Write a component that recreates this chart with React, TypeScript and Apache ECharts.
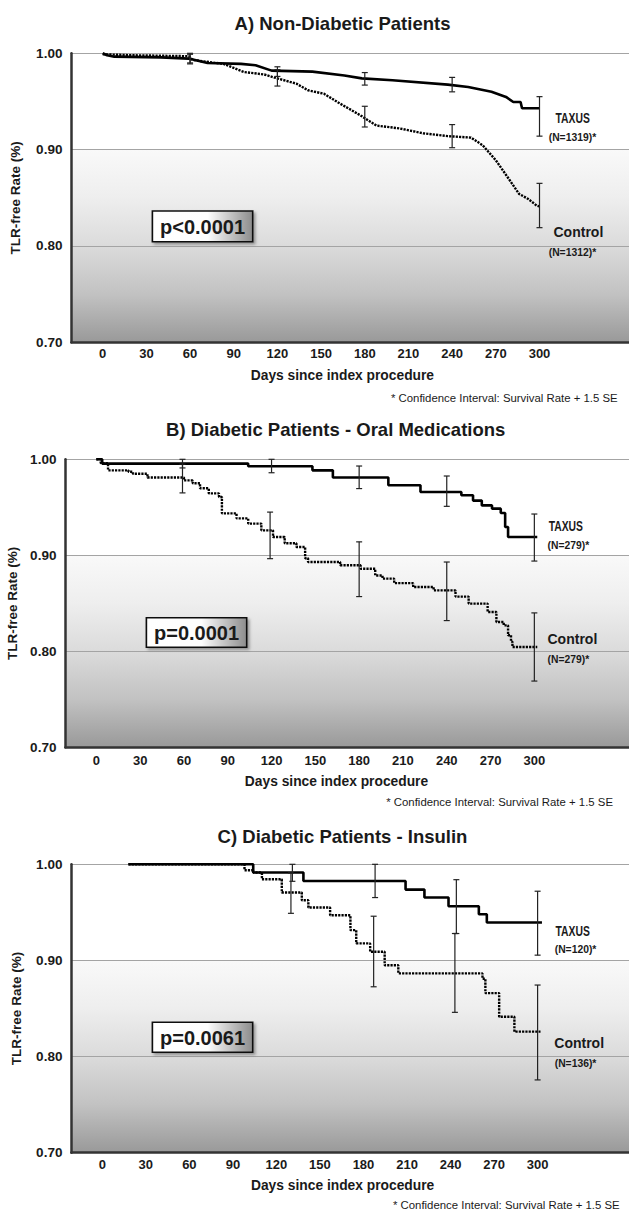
import React, { useEffect, useRef } from "react";
import * as echarts from "echarts";

// ---------- data ----------
const X_TICKS = [0, 30, 60, 90, 120, 150, 180, 210, 240, 270, 300];
const Y_MIN = 0.7;
const Y_MAX = 1.0;
const Y_STEP = 0.1;

const TITLES = [
  "A) Non-Diabetic Patients",
  "B) Diabetic Patients - Oral Medications",
  "C) Diabetic Patients - Insulin",
];
const P_TEXTS = ["p<0.0001", "p=0.0001", "p=0.0061"];
const N_TAXUS = ["(N=1319)*", "(N=279)*", "(N=120)*"];
const N_CONTROL = ["(N=1312)*", "(N=279)*", "(N=136)*"];

// Panel A (day, TLR-free rate)
const A_TAXUS: [number, number][] = [
  [0, 1.0], [3, 0.998], [8, 0.9965], [40, 0.9958], [59, 0.9945], [72, 0.990],
  [95, 0.989], [105, 0.9876], [116, 0.982], [144, 0.981], [166, 0.977],
  [178, 0.974], [199, 0.972], [237, 0.9675], [251, 0.965], [267, 0.960],
  [277, 0.9547], [282, 0.9494], [287, 0.9494], [288, 0.943], [300, 0.943],
];
const A_CONTROL: [number, number][] = [
  [0, 0.999], [20, 0.998], [59, 0.997], [62, 0.993], [83, 0.989], [97, 0.9806],
  [111, 0.978], [118, 0.9748], [133, 0.9685], [141, 0.9616], [152, 0.958],
  [163, 0.9478], [177, 0.9356], [188, 0.925], [204, 0.922], [220, 0.917],
  [237, 0.914], [253, 0.9125], [261, 0.9045], [270, 0.889], [278, 0.8716],
  [281, 0.865], [286, 0.854], [292, 0.849], [298, 0.842], [300, 0.841],
];
// error bars: [day, low, high]
const A_TAXUS_CI: [number, number, number][] = [
  [60, 0.990, 0.999], [120, 0.976, 0.986], [180, 0.967, 0.980],
  [240, 0.960, 0.975], [300, 0.914, 0.955],
];
const A_CONTROL_CI: [number, number, number][] = [
  [60, 0.989, 1.0], [120, 0.966, 0.983], [180, 0.9235, 0.945],
  [240, 0.902, 0.926], [300, 0.819, 0.865],
];

// Panel B
const B_TAXUS: [number, number][] = [
  [0, 1.0], [4, 0.9955], [104, 0.9927], [148, 0.9885], [162, 0.981],
  [200, 0.973], [222, 0.966], [250, 0.9625], [258, 0.957], [264, 0.952],
  [271, 0.9486], [277, 0.944], [280, 0.9295], [282, 0.919], [302, 0.919],
];
const B_CONTROL: [number, number][] = [
  [0, 1.0], [3, 0.996], [8, 0.9885], [22, 0.987], [25, 0.985], [35, 0.981],
  [60, 0.978], [66, 0.975], [71, 0.9698], [77, 0.9645], [84, 0.9607],
  [86, 0.9437], [96, 0.9385], [104, 0.933], [113, 0.926], [121, 0.919],
  [129, 0.9125], [137, 0.9087], [143, 0.897], [145, 0.893], [167, 0.8896],
  [181, 0.886], [191, 0.879], [196, 0.8757], [204, 0.871], [217, 0.867],
  [231, 0.8635], [246, 0.857], [255, 0.8497], [268, 0.841], [274, 0.8305],
  [279, 0.827], [282, 0.8167], [284, 0.81], [285, 0.8045], [302, 0.8045],
];
const B_TAXUS_CI: [number, number, number][] = [
  [59, 0.991, 1.0], [120, 0.986, 1.0], [180, 0.9695, 0.993],
  [240, 0.951, 0.9826], [300, 0.894, 0.943],
];
const B_CONTROL_CI: [number, number, number][] = [
  [59, 0.965, 0.995], [119, 0.8965, 0.945], [180, 0.857, 0.914],
  [240, 0.832, 0.893], [300, 0.769, 0.84],
];

// Panel C
const C_TAXUS: [number, number][] = [
  [18, 1.0], [104, 0.9914], [138.6, 0.9827], [209, 0.9737], [222, 0.9654],
  [238.6, 0.9564], [259.5, 0.948], [265, 0.9394], [303, 0.9394],
];
const C_CONTROL: [number, number][] = [
  [18, 1.0], [98, 0.9938], [104, 0.9914], [110, 0.9844], [123.7, 0.9706],
  [137.5, 0.9626], [142, 0.955], [157, 0.947], [171, 0.9315], [175, 0.9177],
  [184.6, 0.909], [194.6, 0.895], [204, 0.8865], [262, 0.881], [264, 0.866],
  [273.5, 0.8414], [284, 0.8259], [302, 0.8259],
];
const C_TAXUS_CI: [number, number, number][] = [
  [131, 0.9823, 1.0], [188, 0.9654, 1.0], [244, 0.928, 0.984], [300, 0.9055, 0.972],
];
const C_CONTROL_CI: [number, number, number][] = [
  [130, 0.949, 0.991], [187, 0.8726, 0.946], [243, 0.846, 0.928], [300, 0.7757, 0.8744],
];

const TAXUS = [A_TAXUS, B_TAXUS, C_TAXUS];
const CONTROL = [A_CONTROL, B_CONTROL, C_CONTROL];
const TAXUS_CI = [A_TAXUS_CI, B_TAXUS_CI, C_TAXUS_CI];
const CONTROL_CI = [A_CONTROL_CI, B_CONTROL_CI, C_CONTROL_CI];
const STEPPED = [false, true, true];

// ---------- layout ----------
const LAYOUT = [
  { left: 71.4, top: 53.3, height: 289, width: 560, min: -21.5, pxPerDay: 1.456, nameGap: 49, labelMargin: 5,
    titleX: 342.5, titleY: 23.3, daysX: 342.4, daysY: 375.7, footX: 617.7, footY: 398.3,
    box: [152.4, 211, 100.3, 30.7], taxusLbl: [555.5, 118.3], nT: [548.7, 136.7], ctrlLbl: [553.5, 232.3], nC: [548.7, 251.7] },
  { left: 65.4, top: 459.3, height: 288, width: 566, min: -21.2, pxPerDay: 1.46, nameGap: 46, labelMargin: 6.5,
    titleX: 335.7, titleY: 429.3, daysX: 336.5, daysY: 781.7, footX: 613, footY: 802.3,
    box: [146.4, 617.7, 100.3, 29.6], taxusLbl: [548.7, 526], nT: [547.5, 544.3], ctrlLbl: [547.5, 639], nC: [547.5, 659] },
  { left: 71.4, top: 864.3, height: 288.4, width: 560, min: -21.3, pxPerDay: 1.451, nameGap: 48, labelMargin: 5,
    titleX: 342.5, titleY: 836, daysX: 342.6, daysY: 1185.7, footX: 619.7, footY: 1204.6,
    box: [152.4, 1022.3, 100.3, 30], taxusLbl: [555.5, 931], nT: [554.7, 948.3], ctrlLbl: [554.3, 1043.3], nC: [554.7, 1062.7] },
];

const FONT = "'Liberation Sans', Arial, sans-serif";
const INK = "#1a1a1a";

function errorBarSeries(i: number, data: [number, number, number][]) {
  return {
    type: "custom",
    xAxisIndex: i,
    yAxisIndex: i,
    z: 4,
    silent: true,
    data,
    renderItem: (params: any, api: any) => {
      const x = api.value(0);
      const lo = api.coord([x, api.value(1)]);
      const hi = api.coord([x, api.value(2)]);
      const cap = 3;
      const style = { stroke: "#222", lineWidth: 1.2 };
      return {
        type: "group",
        children: [
          { type: "line", shape: { x1: lo[0], y1: lo[1], x2: hi[0], y2: hi[1] }, style },
          { type: "line", shape: { x1: hi[0] - cap, y1: hi[1], x2: hi[0] + cap, y2: hi[1] }, style },
          { type: "line", shape: { x1: lo[0] - cap, y1: lo[1], x2: lo[0] + cap, y2: lo[1] }, style },
        ],
      };
    },
  };
}

function buildOption() {
  const grids: any[] = [];
  const xAxes: any[] = [];
  const yAxes: any[] = [];
  const series: any[] = [];
  const graphics: any[] = [];

  // plot background: white above 0.90, grey gradient below it
  const whiteFrac = (Y_MAX - 0.9) / (Y_MAX - Y_MIN);
  const bgGradient = () =>
    new echarts.graphic.LinearGradient(0, 0, 0, 1, [
      { offset: 0, color: "#ffffff" },
      { offset: whiteFrac, color: "#ffffff" },
      { offset: whiteFrac + 0.001, color: "#f9f9f9" },
      { offset: whiteFrac + (1 - whiteFrac) * 0.25, color: "#eeeeee" },
      { offset: whiteFrac + (1 - whiteFrac) * 0.5, color: "#dbdbdb" },
      { offset: whiteFrac + (1 - whiteFrac) * 0.75, color: "#c2c2c2" },
      { offset: 1, color: "#999999" },
    ]);

  LAYOUT.forEach((L, i) => {
    const max = L.min + L.width / L.pxPerDay;
    grids.push({
      left: L.left, top: L.top, width: L.width, height: L.height,
      containLabel: false, outerBoundsMode: "none",
      show: true, borderWidth: 0, backgroundColor: bgGradient(),
    });
    xAxes.push({
      type: "value",
      gridIndex: i,
      min: L.min,
      max,
      axisLine: { show: true, onZero: false, lineStyle: { color: "#333", width: 2.5 } },
      axisTick: { show: false },
      splitLine: { show: false },
      axisLabel: {
        customValues: X_TICKS,
        margin: L.labelMargin,
        fontFamily: FONT,
        fontWeight: "bold",
        fontSize: 13,
        color: INK,
      },
    });
    yAxes.push({
      type: "value",
      gridIndex: i,
      min: Y_MIN,
      max: Y_MAX,
      interval: Y_STEP,
      name: "TLR-free Rate (%)",
      nameLocation: "middle",
      nameGap: L.nameGap,
      nameTextStyle: { fontFamily: FONT, fontWeight: "bold", fontSize: 13.5, color: INK },
      axisLine: { show: true, onZero: false, lineStyle: { color: "#333", width: 2.5 } },
      axisTick: { show: false },
      splitLine: { show: true, lineStyle: { color: "#a4a4a4", width: 1.2 } },
      axisLabel: {
        margin: 9,
        fontFamily: FONT,
        fontWeight: "bold",
        fontSize: 13.5,
        color: INK,
        formatter: (v: number) => v.toFixed(2),
      },
    });

    series.push({
      name: "Control",
      type: "line",
      xAxisIndex: i,
      yAxisIndex: i,
      step: STEPPED[i] ? "end" : false,
      showSymbol: false,
      silent: true,
      z: 3,
      data: CONTROL[i],
      lineStyle: { color: "#000", width: 2.4, type: [2.2, 1.1], cap: "butt" },
    });
    series.push({
      name: "TAXUS",
      type: "line",
      xAxisIndex: i,
      yAxisIndex: i,
      step: STEPPED[i] ? "end" : false,
      showSymbol: false,
      silent: true,
      z: 3,
      data: TAXUS[i],
      lineStyle: { color: "#000", width: 2.6 },
    });
    series.push(errorBarSeries(i, TAXUS_CI[i]));
    series.push(errorBarSeries(i, CONTROL_CI[i]));

    // texts
    const T = (x: number, y: number, text: string, font: string, align: string, scaleX = 1) => ({
      type: "text", x, y, scaleX, z: 20,
      style: { text, fill: INK, font, textAlign: align, textVerticalAlign: "middle" },
    });
    graphics.push(T(L.titleX, L.titleY, TITLES[i], `bold 18.5px ${FONT}`, "center"));
    graphics.push(T(L.daysX, L.daysY, "Days since index procedure", `bold 13.8px ${FONT}`, "center"));
    graphics.push(T(L.footX, L.footY, "* Confidence Interval: Survival Rate + 1.5 SE", `11.5px ${FONT}`, "right", 0.99));
    graphics.push(T(L.taxusLbl[0], L.taxusLbl[1], "TAXUS", `bold 14px ${FONT}`, "left", 0.74));
    graphics.push(T(L.nT[0], L.nT[1], N_TAXUS[i], `bold 11.5px ${FONT}`, "left", 0.9));
    graphics.push(T(L.ctrlLbl[0], L.ctrlLbl[1], "Control", `bold 14px ${FONT}`, "left"));
    graphics.push(T(L.nC[0], L.nC[1], N_CONTROL[i], `bold 11.5px ${FONT}`, "left", 0.9));

    const [bx, by, bw, bh] = L.box;
    graphics.push({
      type: "rect",
      shape: { x: bx, y: by, width: bw, height: bh },
      style: {
        fill: new echarts.graphic.LinearGradient(0, 0, 1, 0, [
          { offset: 0, color: "#ffffff" },
          { offset: 0.55, color: "#fdfdfd" },
          { offset: 1, color: "#8c8c8c" },
        ]),
        stroke: "#111",
        lineWidth: 1.6,
        shadowBlur: 3,
        shadowOffsetX: 2,
        shadowOffsetY: 2,
        shadowColor: "rgba(0,0,0,0.35)",
      },
      z: 21,
    });
    graphics.push({
      type: "text", x: bx + bw / 2, y: by + bh / 2 + 0.5, z: 22,
      style: { text: P_TEXTS[i], fill: INK, font: `bold 20px ${FONT}`, textAlign: "center", textVerticalAlign: "middle" },
    });
  });

  return {
    animation: false,
    backgroundColor: "#ffffff",
    grid: grids,
    xAxis: xAxes,
    yAxis: yAxes,
    series,
    graphic: graphics,
  };
}

export default function App() {
  const ref = useRef<HTMLDivElement>(null);
  useEffect(() => {
    if (!ref.current) return;
    const chart = echarts.init(ref.current, null, { renderer: "svg" });
    chart.setOption(buildOption() as any);
    return () => chart.dispose();
  }, []);
  return (
    <div
      ref={ref}
      style={{ position: "absolute", left: 0, top: 0, width: 629, height: 1211, background: "#fff", overflow: "hidden" }}
    />
  );
}
